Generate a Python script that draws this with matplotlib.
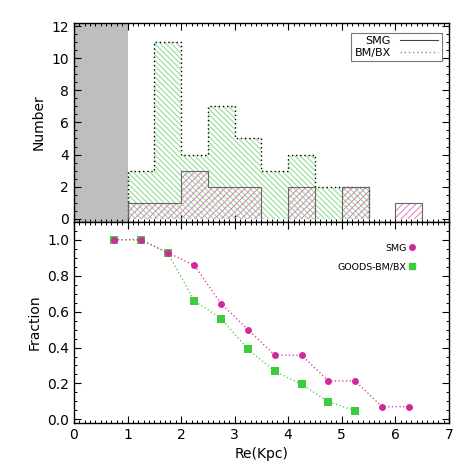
import matplotlib
matplotlib.use("Agg")
import matplotlib.pyplot as plt
from matplotlib.ticker import MultipleLocator, FormatStrFormatter
from matplotlib.lines import Line2D
import numpy as np

bin_edges = [1.0, 1.5, 2.0, 2.5, 3.0, 3.5, 4.0, 4.5, 5.0, 5.5, 6.0, 6.5]
bmbx_counts = [3, 11, 4, 7, 5, 3, 4, 2, 2, 0, 0]
smg_counts = [1, 1, 3, 2, 2, 0, 2, 0, 2, 0, 1]

frac_x_smg = [0.75, 1.25, 1.75, 2.25, 2.75, 3.25, 3.75, 4.25, 4.75, 5.25, 5.75, 6.25]
frac_smg = [1.0, 1.0, 0.929, 0.857, 0.643, 0.5, 0.357, 0.357, 0.214, 0.214, 0.071, 0.071]
frac_x_bmbx = [0.75, 1.25, 1.75, 2.25, 2.75, 3.25, 3.75, 4.25, 4.75, 5.25]
frac_bmbx = [1.0, 1.0, 0.927, 0.659, 0.561, 0.390, 0.268, 0.195, 0.098, 0.049]

GREEN_H = "#84dc84"
PINK_H = "#e27ac6"
MAG = "#d02a9a"
GRN = "#3ccc3c"

plt.rcParams['font.family'] = ['DejaVu Sans']
plt.rcParams['hatch.linewidth'] = 0.7

fig = plt.figure(figsize=(4.71, 4.71), dpi=100)
ax1 = fig.add_axes([0.157, 0.529, 0.796, 0.422])
ax2 = fig.add_axes([0.157, 0.102, 0.796, 0.427])


def outline_runs(ax, counts, edges, **kw):
    """Draw step outlines for contiguous runs of non-zero bins."""
    n = len(counts)
    i = 0
    while i < n:
        if counts[i] == 0:
            i += 1
            continue
        j = i
        while j < n and counts[j] != 0:
            j += 1
        ax.stairs(counts[i:j], edges[i:j + 1], baseline=0, fill=False, **kw)
        i = j


# top panel
ax1.axvspan(0, 1, color="#bebebe", zorder=0, lw=0)
widths = np.diff(bin_edges)
lefts = np.array(bin_edges[:-1])
ax1.bar(lefts, bmbx_counts, width=widths, align='edge', facecolor='none',
        edgecolor=GREEN_H, hatch='\\' * 6, linewidth=0, zorder=1)
ax1.bar(lefts, smg_counts, width=widths, align='edge', facecolor='none',
        edgecolor=PINK_H, hatch='/' * 5, linewidth=0, zorder=2)
outline_runs(ax1, bmbx_counts, bin_edges, color='black',
             linestyle=(0, (1, 2)), linewidth=1.0, zorder=3)
outline_runs(ax1, smg_counts, bin_edges, color='#666666',
             linestyle='-', linewidth=0.8, zorder=4)
ax1.set_xlim(0, 7)
ax1.set_ylim(-0.2, 12.2)
ax1.set_ylabel("Number", fontsize=10)
ax1.yaxis.set_major_locator(MultipleLocator(2))
ax1.yaxis.set_minor_locator(MultipleLocator(0.5))
ax1.xaxis.set_major_locator(MultipleLocator(1))
ax1.xaxis.set_minor_locator(MultipleLocator(0.1))
ax1.set_xticklabels([])
handles = [Line2D([], [], color='#444444', lw=0.8, linestyle='-'),
           Line2D([], [], color='#888888', lw=1.0, linestyle=(0, (1, 2)))]
leg = ax1.legend(handles, ["SMG", "BM/BX"], loc='upper right', markerfirst=False,
                 fontsize=8, fancybox=False, framealpha=1, edgecolor='#777777',
                 handlelength=3.5, borderpad=0.3, labelspacing=0.15,
                 borderaxespad=0, bbox_to_anchor=(0.981, 0.95))
leg.get_frame().set_linewidth(0.8)

# bottom panel
ax2.plot(frac_x_bmbx, frac_bmbx, linestyle=(0, (1, 2)), color=GRN, lw=0.9,
         marker='s', markersize=6, markeredgewidth=0, zorder=2)
ax2.plot(frac_x_smg, frac_smg, linestyle=(0, (1, 2)), color=MAG, lw=0.9,
         marker='o', markersize=5, markeredgewidth=0, zorder=3)
ax2.set_xlim(0, 7)
ax2.set_ylim(-0.02, 1.1)
ax2.set_xlabel("Re(Kpc)", fontsize=10)
ax2.set_ylabel("Fraction", fontsize=10)
ax2.xaxis.set_major_locator(MultipleLocator(1))
ax2.xaxis.set_minor_locator(MultipleLocator(0.1))
ax2.yaxis.set_major_locator(MultipleLocator(0.2))
ax2.yaxis.set_minor_locator(MultipleLocator(0.05))
ax2.yaxis.set_major_formatter(FormatStrFormatter('%.1f'))
leg2 = ax2.legend([Line2D([], [], color=MAG, marker='o', ms=4, lw=0),
                   Line2D([], [], color=GRN, marker='s', ms=5, lw=0)],
                  ["SMG", "GOODS-BM/BX"], loc='upper right', markerfirst=False,
                  frameon=False, fontsize=6.8, handlelength=0.6, handletextpad=0.3,
                  labelspacing=1.0, borderaxespad=0, bbox_to_anchor=(0.92, 0.91))

for ax in (ax1, ax2):
    ax.tick_params(which='both', direction='in', top=True, right=True, labelsize=10)
    ax.tick_params(which='major', length=5, width=0.8)
    ax.tick_params(which='minor', length=2.5, width=0.7)
    for s in ax.spines.values():
        s.set_linewidth(1.0)

fig.savefig("out.png", dpi=100)
